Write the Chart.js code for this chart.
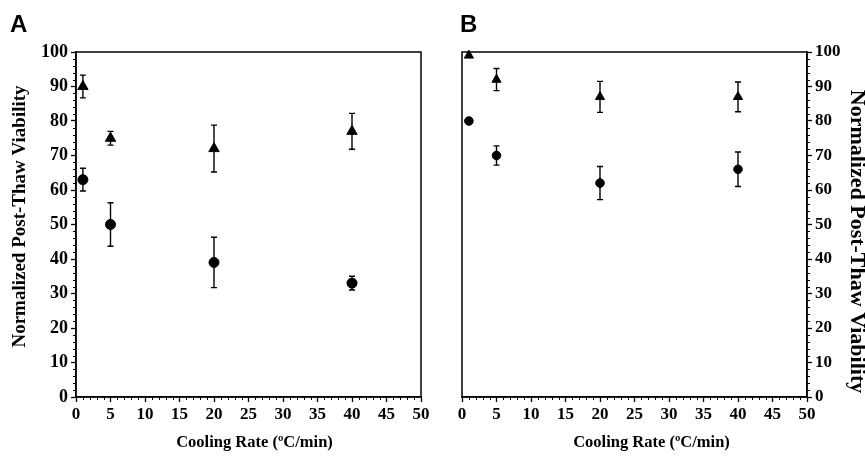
<!DOCTYPE html>
<html>
<head>
<meta charset="utf-8">
<script src="https://cdn.jsdelivr.net/npm/chart.js@4.4.1/dist/chart.umd.min.js"></script>
<style>
  body { margin: 0; background: #fff; }
  #wrap { position: relative; width: 865px; height: 457px; }
  .panel { position: absolute; top: 0; height: 457px; }
  .tag { position: absolute; top: 10px; font: bold 24px "Liberation Sans", Arial, sans-serif; color: #000; }
</style>
</head>
<body>
<div id="wrap">
  <div class="panel" style="left:0;width:440px"><canvas id="chartA"></canvas></div>
  <div class="panel" style="left:440px;width:425px"><canvas id="chartB"></canvas></div>
  <div class="tag" style="left:10px">A</div>
  <div class="tag" style="left:460px">B</div>
</div>
<script>
// cooling rates (ºC/min)
const coolingRates = [1, 5, 20, 40];

// panel A
const aTriangle = [90, 75, 72, 77];
const aTriangleErr = [3.3, 2.0, 6.8, 5.2];
const aCircle = [63, 50, 39, 33];
const aCircleErr = [3.3, 6.3, 7.3, 2.0];

// panel B
const bTriangle = [99, 92, 87, 87];
const bTriangleErr = [0, 3.2, 4.5, 4.3];
const bCircle = [80, 70, 62, 66];
const bCircleErr = [0, 2.8, 4.8, 5.0];

// axis ticks
const xTickValues = [0, 5, 10, 15, 20, 25, 30, 35, 40, 45, 50];
const yTickValues = [0, 10, 20, 30, 40, 50, 60, 70, 80, 90, 100];

const xTitle = 'Cooling Rate (ºC/min)';
const yTitle = 'Normalized Post-Thaw Viability';

const serif = "'Liberation Serif', 'Times New Roman', serif";

function points(vals, errs) {
    return coolingRates.map((x, i) => ({ x: x, y: vals[i], err: errs[i] }));
}

// error bars under the markers
const errorBars = {
    id: 'errorBars',
    beforeDatasetsDraw(chart) {
        const ctx = chart.ctx, xs = chart.scales.x, ys = chart.scales.y;
        ctx.save();
        ctx.strokeStyle = '#000';
        ctx.lineWidth = 1.4;
        chart.data.datasets.forEach(ds => {
            ds.data.forEach(p => {
                if (!p.err) return;
                const px = xs.getPixelForValue(p.x);
                const hi = ys.getPixelForValue(p.y + p.err);
                const lo = ys.getPixelForValue(p.y - p.err);
                ctx.beginPath();
                ctx.moveTo(px, hi); ctx.lineTo(px, lo);
                ctx.moveTo(px - 3, hi); ctx.lineTo(px + 3, hi);
                ctx.moveTo(px - 3, lo); ctx.lineTo(px + 3, lo);
                ctx.stroke();
            });
        });
        ctx.restore();
    }
};

// box around the plot plus minor ticks
const frame = {
    id: 'frame',
    afterDraw(chart) {
        const ctx = chart.ctx, a = chart.chartArea;
        const xs = chart.scales.x, ys = chart.scales.y;
        const right = ys.position === 'right';
        ctx.save();
        ctx.strokeStyle = '#000';
        ctx.lineWidth = 1.5;
        ctx.strokeRect(a.left, a.top, a.right - a.left, a.bottom - a.top);
        ctx.lineWidth = 1;
        ctx.beginPath();
        for (let v = 1; v < 50; v++) {
            if (v % 5 === 0) continue;
            const px = Math.round(xs.getPixelForValue(v)) + 0.5;
            ctx.moveTo(px, a.bottom); ctx.lineTo(px, a.bottom + 3);
        }
        for (let v = 2; v < 100; v += 2) {
            if (v % 10 === 0) continue;
            const py = Math.round(ys.getPixelForValue(v)) + 0.5;
            const ex = right ? a.right : a.left;
            ctx.moveTo(ex, py); ctx.lineTo(right ? ex + 3 : ex - 3, py);
        }
        ctx.stroke();
        ctx.restore();
    }
};

// axis titles, placed relative to the plot area
const axisTitles = {
    id: 'axisTitles',
    afterDraw(chart, args, opts) {
        const ctx = chart.ctx, a = chart.chartArea;
        ctx.save();
        ctx.fillStyle = '#000';
        ctx.textAlign = 'center';
        ctx.textBaseline = 'middle';
        ctx.font = 'bold ' + opts.xSize + 'px ' + serif;
        ctx.fillText(xTitle, (a.left + a.right) / 2 + opts.xShift, opts.xY);
        ctx.translate(opts.yX, (a.top + a.bottom) / 2 + opts.yShift);
        ctx.rotate(opts.side === 'left' ? -Math.PI / 2 : Math.PI / 2);
        ctx.font = 'bold ' + opts.ySize + 'px ' + serif;
        ctx.fillText(yTitle, 0, 0);
        ctx.restore();
    }
};

function makeChart(id, side, tri, triErr, circ, circErr, r, layoutPad, yWidth, yTickSize, titles) {
    return new Chart(document.getElementById(id), {
        type: 'scatter',
        data: {
            datasets: [
                {
                    data: points(tri, triErr),
                    pointStyle: 'triangle',
                    pointRadius: r + 1,
                    backgroundColor: '#000',
                    borderColor: '#000',
                    borderWidth: 1
                },
                {
                    data: points(circ, circErr),
                    pointStyle: 'circle',
                    pointRadius: r,
                    backgroundColor: '#000',
                    borderColor: '#000',
                    borderWidth: 1
                }
            ]
        },
        options: {
            responsive: true,
            maintainAspectRatio: false,
            animation: false,
            clip: false,
            layout: { padding: layoutPad },
            plugins: {
                legend: { display: false },
                tooltip: { enabled: false },
                axisTitles: Object.assign({ side: side }, titles)
            },
            scales: {
                x: {
                    type: 'linear',
                    min: 0, max: 50,
                    afterBuildTicks: s => { s.ticks = xTickValues.map(v => ({ value: v })); },
                    afterFit: s => { s.height = 60; },
                    grid: { drawOnChartArea: false, tickLength: 5, tickWidth: 1.3, color: '#000' },
                    border: { display: true, color: '#000', width: 1.5 },
                    ticks: { color: '#000', padding: 2, font: { family: serif, size: 17, weight: 'bold' } }
                },
                y: {
                    type: 'linear',
                    position: side,
                    min: 0, max: 100,
                    afterBuildTicks: s => { s.ticks = yTickValues.map(v => ({ value: v })); },
                    afterFit: s => { s.width = yWidth; },
                    grid: { drawOnChartArea: false, tickLength: 5, tickWidth: 1.3, color: '#000' },
                    border: { display: true, color: '#000', width: 1.5 },
                    ticks: { color: '#000', padding: 3, font: { family: serif, size: yTickSize, weight: 'bold' } }
                }
            }
        },
        plugins: [errorBars, frame, axisTitles]
    });
}

makeChart('chartA', 'left', aTriangle, aTriangleErr, aCircle, aCircleErr, 5,
    { top: 52, right: 19, left: 0, bottom: 0 }, 76, 18,
    { xSize: 16.5, xShift: 6, xY: 443, ySize: 19, yX: 20, yShift: -8 });
makeChart('chartB', 'right', bTriangle, bTriangleErr, bCircle, bCircleErr, 4.3,
    { top: 52, right: 0, left: 22, bottom: 0 }, 58, 17,
    { xSize: 16.5, xShift: 17, xY: 443, ySize: 22, yX: 417, yShift: 17 });
</script>
</body>
</html>
